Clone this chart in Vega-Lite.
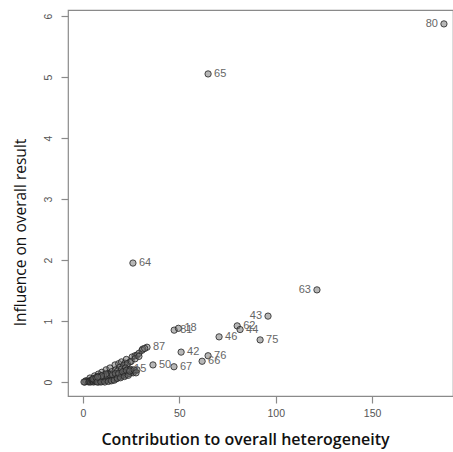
{
  "$schema": "https://vega.github.io/schema/vega-lite/v6.json",
  "width": 385,
  "height": 386,
  "autosize": "none",
  "padding": {"left": 68, "top": 10, "right": 0, "bottom": 56},
  "background": "white",
  "config": {"view": {"stroke": "#8a8a8a", "strokeWidth": 1.2}},
  "data": {"values": [
    {"x": 187.3, "y": 5.87, "label": "80"},
    {"x": 64.9, "y": 5.05, "label": "65"},
    {"x": 25.9, "y": 1.95, "label": "64"},
    {"x": 121.4, "y": 1.51, "label": "63"},
    {"x": 96.0, "y": 1.08, "label": "43"},
    {"x": 80.0, "y": 0.92, "label": "62"},
    {"x": 81.5, "y": 0.86, "label": "44"},
    {"x": 91.9, "y": 0.69, "label": "75"},
    {"x": 70.6, "y": 0.74, "label": "46"},
    {"x": 47.3, "y": 0.85, "label": "81"},
    {"x": 49.5, "y": 0.88, "label": "18"},
    {"x": 64.9, "y": 0.43, "label": "76"},
    {"x": 61.8, "y": 0.34, "label": "66"},
    {"x": 50.9, "y": 0.49, "label": "42"},
    {"x": 47.2, "y": 0.25, "label": "67"},
    {"x": 36.3, "y": 0.28, "label": "50"},
    {"x": 33.2, "y": 0.57, "label": "87"},
    {"x": 23.4, "y": 0.21, "label": "15"},
    {"x": 1.5, "y": 0.02, "label": ""},
    {"x": 3.6, "y": 0.065, "label": ""},
    {"x": 6, "y": 0.1, "label": ""},
    {"x": 8, "y": 0.13, "label": ""},
    {"x": 9.8, "y": 0.16, "label": ""},
    {"x": 12, "y": 0.2, "label": ""},
    {"x": 14, "y": 0.23, "label": ""},
    {"x": 16.6, "y": 0.28, "label": ""},
    {"x": 18.5, "y": 0.3, "label": ""},
    {"x": 20, "y": 0.33, "label": ""},
    {"x": 21.8, "y": 0.31, "label": ""},
    {"x": 22.5, "y": 0.37, "label": ""},
    {"x": 24.4, "y": 0.33, "label": ""},
    {"x": 25.5, "y": 0.41, "label": ""},
    {"x": 27, "y": 0.43, "label": ""},
    {"x": 28, "y": 0.44, "label": ""},
    {"x": 29, "y": 0.47, "label": ""},
    {"x": 30.6, "y": 0.52, "label": ""},
    {"x": 31, "y": 0.54, "label": ""},
    {"x": 32, "y": 0.55, "label": ""},
    {"x": 13, "y": 0.14, "label": ""},
    {"x": 15, "y": 0.17, "label": ""},
    {"x": 17, "y": 0.2, "label": ""},
    {"x": 19, "y": 0.24, "label": ""},
    {"x": 21, "y": 0.27, "label": ""},
    {"x": 23, "y": 0.3, "label": ""},
    {"x": 25, "y": 0.34, "label": ""},
    {"x": 27, "y": 0.38, "label": ""},
    {"x": 29, "y": 0.42, "label": ""},
    {"x": 18, "y": 0.18, "label": ""},
    {"x": 20, "y": 0.21, "label": ""},
    {"x": 22, "y": 0.23, "label": ""},
    {"x": 8, "y": 0.09, "label": ""},
    {"x": 10, "y": 0.11, "label": ""},
    {"x": 6, "y": 0.06, "label": ""},
    {"x": 4, "y": 0.03, "label": ""},
    {"x": 2, "y": 0.01, "label": ""},
    {"x": 1, "y": 0.0, "label": ""},
    {"x": 0.5, "y": 0.0, "label": ""},
    {"x": 3, "y": 0.0, "label": ""},
    {"x": 3.5, "y": 0.01, "label": ""},
    {"x": 4, "y": 0.0, "label": ""},
    {"x": 4.5, "y": 0.02, "label": ""},
    {"x": 5, "y": 0.01, "label": ""},
    {"x": 5, "y": 0.03, "label": ""},
    {"x": 5.5, "y": 0.0, "label": ""},
    {"x": 6, "y": 0.02, "label": ""},
    {"x": 6, "y": 0.04, "label": ""},
    {"x": 6.5, "y": 0.01, "label": ""},
    {"x": 7, "y": 0.03, "label": ""},
    {"x": 7, "y": 0.05, "label": ""},
    {"x": 7.5, "y": 0.02, "label": ""},
    {"x": 8, "y": 0.0, "label": ""},
    {"x": 8, "y": 0.04, "label": ""},
    {"x": 8.5, "y": 0.06, "label": ""},
    {"x": 9, "y": 0.02, "label": ""},
    {"x": 9, "y": 0.05, "label": ""},
    {"x": 9.5, "y": 0.03, "label": ""},
    {"x": 10, "y": 0.07, "label": ""},
    {"x": 10, "y": 0.01, "label": ""},
    {"x": 10.5, "y": 0.04, "label": ""},
    {"x": 11, "y": 0.06, "label": ""},
    {"x": 11, "y": 0.02, "label": ""},
    {"x": 11.5, "y": 0.08, "label": ""},
    {"x": 12, "y": 0.04, "label": ""},
    {"x": 12, "y": 0.07, "label": ""},
    {"x": 12.5, "y": 0.03, "label": ""},
    {"x": 13, "y": 0.06, "label": ""},
    {"x": 13, "y": 0.09, "label": ""},
    {"x": 13.5, "y": 0.05, "label": ""},
    {"x": 14, "y": 0.08, "label": ""},
    {"x": 14, "y": 0.03, "label": ""},
    {"x": 14.5, "y": 0.1, "label": ""},
    {"x": 15, "y": 0.06, "label": ""},
    {"x": 15, "y": 0.09, "label": ""},
    {"x": 15.5, "y": 0.04, "label": ""},
    {"x": 16, "y": 0.07, "label": ""},
    {"x": 16, "y": 0.11, "label": ""},
    {"x": 16.5, "y": 0.08, "label": ""},
    {"x": 17, "y": 0.05, "label": ""},
    {"x": 17, "y": 0.1, "label": ""},
    {"x": 17.5, "y": 0.12, "label": ""},
    {"x": 18, "y": 0.08, "label": ""},
    {"x": 18, "y": 0.11, "label": ""},
    {"x": 19, "y": 0.09, "label": ""},
    {"x": 19, "y": 0.13, "label": ""},
    {"x": 20, "y": 0.1, "label": ""},
    {"x": 20, "y": 0.14, "label": ""},
    {"x": 21, "y": 0.12, "label": ""},
    {"x": 21, "y": 0.16, "label": ""},
    {"x": 22, "y": 0.11, "label": ""},
    {"x": 22, "y": 0.15, "label": ""},
    {"x": 23, "y": 0.13, "label": ""},
    {"x": 23, "y": 0.17, "label": ""},
    {"x": 24, "y": 0.14, "label": ""},
    {"x": 25, "y": 0.16, "label": ""},
    {"x": 25, "y": 0.19, "label": ""},
    {"x": 26, "y": 0.15, "label": ""},
    {"x": 27, "y": 0.18, "label": ""},
    {"x": 28, "y": 0.2, "label": ""},
    {"x": 24.5, "y": 0.21, "label": ""},
    {"x": 5.2, "y": 0.05, "label": ""},
    {"x": 6.8, "y": 0.07, "label": ""},
    {"x": 7.3, "y": 0.0, "label": ""},
    {"x": 8.8, "y": 0.08, "label": ""},
    {"x": 9.3, "y": 0.0, "label": ""},
    {"x": 10.8, "y": 0.09, "label": ""},
    {"x": 11.3, "y": 0.0, "label": ""},
    {"x": 12.3, "y": 0.1, "label": ""},
    {"x": 13.2, "y": 0.01, "label": ""},
    {"x": 13.8, "y": 0.12, "label": ""},
    {"x": 14.8, "y": 0.02, "label": ""},
    {"x": 15.3, "y": 0.12, "label": ""},
    {"x": 16.2, "y": 0.03, "label": ""},
    {"x": 16.8, "y": 0.14, "label": ""},
    {"x": 17.8, "y": 0.06, "label": ""},
    {"x": 18.5, "y": 0.14, "label": ""},
    {"x": 19.5, "y": 0.07, "label": ""},
    {"x": 20.5, "y": 0.17, "label": ""},
    {"x": 21.5, "y": 0.09, "label": ""},
    {"x": 22.5, "y": 0.19, "label": ""},
    {"x": 23.5, "y": 0.11, "label": ""},
    {"x": 24.2, "y": 0.18, "label": ""},
    {"x": 26.5, "y": 0.2, "label": ""},
    {"x": 27.5, "y": 0.15, "label": ""},
    {"x": 11.8, "y": 0.13, "label": ""},
    {"x": 9.6, "y": 0.1, "label": ""},
    {"x": 7.6, "y": 0.08, "label": ""}
  ]},
  "encoding": {
    "x": {
      "field": "x", "type": "quantitative",
      "scale": {"domain": [-7.8, 192], "nice": false, "zero": false},
      "axis": {
        "title": "Contribution to overall heterogeneity",
        "values": [0, 50, 100, 150],
        "grid": false, "domain": false,
        "tickColor": "#8a8a8a", "tickSize": 7, "tickWidth": 1.2,
        "labelColor": "#555555", "labelFont": "Liberation Sans", "labelFontSize": 10.5, "labelPadding": 5,
        "titleFont": "Open Sans", "titleFontSize": 16, "titleFontWeight": 600, "titleColor": "#111111",
        "titleX": 177, "titleY": 43, "titleBaseline": "middle", "titleAlign": "center"
      }
    },
    "y": {
      "field": "y", "type": "quantitative",
      "scale": {"domain": [-0.2295, 6.098], "nice": false, "zero": false},
      "axis": {
        "title": "Influence on overall result",
        "values": [0, 1, 2, 3, 4, 5, 6],
        "grid": false, "domain": false,
        "tickColor": "#8a8a8a", "tickSize": 7, "tickWidth": 1.2,
        "labelAngle": -90, "labelAlign": "center", "labelBaseline": "bottom",
        "labelColor": "#555555", "labelFont": "Liberation Sans", "labelFontSize": 10.5, "labelPadding": 8,
        "titleFont": "Open Sans", "titleFontSize": 15.5, "titleFontWeight": "normal", "titleColor": "#111111",
        "titleX": -48, "titleY": 222, "titleBaseline": "middle", "titleAlign": "center", "titleAngle": -90
      }
    }
  },
  "layer": [
    {
      "mark": {"type": "point", "shape": "circle", "filled": true, "size": 40,
               "fill": "#707070", "fillOpacity": 0.5, "stroke": "#222222", "strokeOpacity": 0.8, "strokeWidth": 1}
    },
    {
      "transform": [{"filter": "datum.label != '' && indexof(['80','63','43'], datum.label) < 0"}],
      "mark": {"type": "text", "align": "left", "baseline": "middle", "dx": 6,
               "font": "Liberation Sans", "fontSize": 11, "color": "#666666"},
      "encoding": {"text": {"field": "label"}}
    },
    {
      "transform": [{"filter": "indexof(['80','63','43'], datum.label) >= 0"}],
      "mark": {"type": "text", "align": "right", "baseline": "middle", "dx": -6,
               "font": "Liberation Sans", "fontSize": 11, "color": "#666666"},
      "encoding": {"text": {"field": "label"}}
    }
  ]
}
